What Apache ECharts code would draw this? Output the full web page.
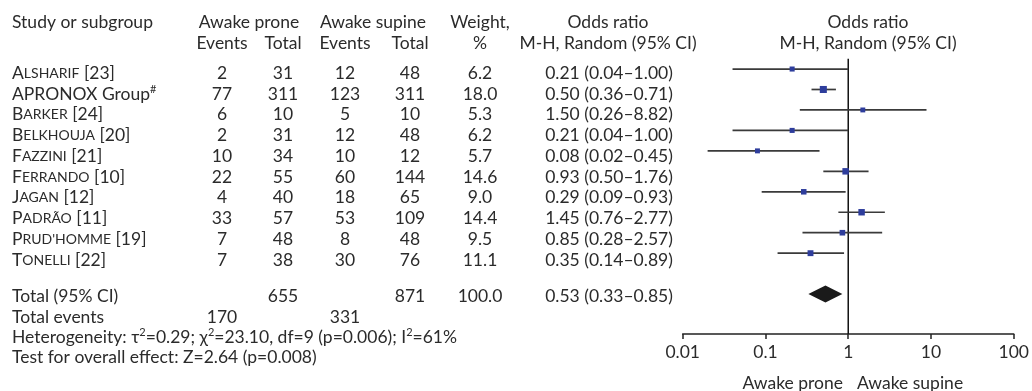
<!DOCTYPE html>
<html><head><meta charset="utf-8">
<script src="https://cdn.jsdelivr.net/npm/echarts@6/dist/echarts.min.js"></script>
<style>html,body{margin:0;padding:0;background:#fff}#c{width:1032px;height:391px}</style>
</head><body><div id="c"></div>
<script>
// ---- data ----
const studyNames = ['Alsharif', 'APRONOX Group', 'Barker', 'Belkhouja', 'Fazzini', 'Ferrando', 'Jagan', 'Padrão', "Prud'homme", 'Tonelli'];
const studyRefs = ['[23]', '#', '[24]', '[20]', '[21]', '[10]', '[12]', '[11]', '[19]', '[22]'];
const smallCaps = [true, false, true, true, true, true, true, true, true, true];
const proneEvents = [2, 77, 6, 2, 10, 22, 4, 33, 7, 7];
const proneTotal = [31, 311, 10, 31, 34, 55, 40, 57, 48, 38];
const supineEvents = [12, 123, 5, 12, 10, 60, 18, 53, 8, 30];
const supineTotal = [48, 311, 10, 48, 12, 144, 65, 109, 48, 76];
const weights = [6.2, 18.0, 5.3, 6.2, 5.7, 14.6, 9.0, 14.4, 9.5, 11.1];
const oddsRatio = [0.21, 0.50, 1.50, 0.21, 0.08, 0.93, 0.29, 1.45, 0.85, 0.35];
const ciLow = [0.04, 0.36, 0.26, 0.04, 0.02, 0.50, 0.09, 0.76, 0.28, 0.14];
const ciHigh = [1.00, 0.71, 8.82, 1.00, 0.45, 1.76, 0.93, 2.77, 2.57, 0.89];
const totalProne = 655, totalSupine = 871, totalWeight = '100.0';
const totalEventsProne = 170, totalEventsSupine = 331;
const pooled = [0.53, 0.33, 0.85];
const tickValues = [0.01, 0.1, 1, 10, 100];
const tickLabels = ['0.01', '0.1', '1', '10', '100'];

// ---- style ----
const FONT = 'Lato';
const FS = 17.5;
const TXT = '#2b2b2b';
const fmt2 = v => v.toFixed(2);

const chart = echarts.init(document.getElementById('c'), null, {renderer: 'canvas'});
const gfx = [];
function T(x, y, text, align, rich) {
  gfx.push({type: 'text', x: x, y: y, silent: true,
    style: {text: text, fontFamily: FONT, fontSize: FS, fill: TXT, align: align || 'center', verticalAlign: 'middle', lineHeight: 20, rich: rich || {}}});
}
const RICH = {
  sc1: {fontFamily: FONT, fontSize: FS, fill: TXT, lineHeight: 20},
  sc2: {fontFamily: FONT, fontSize: 14, fill: TXT, lineHeight: 20},
  sup: {fontFamily: FONT, fontSize: 11, fill: TXT, verticalAlign: 'top', lineHeight: 20},
  n: {fontFamily: FONT, fontSize: FS, fill: TXT, lineHeight: 20}
};

// header
const H1 = 22, H2 = 43;
T(12, H1, 'Study or subgroup', 'left');
T(249, H1, 'Awake prone'); T(373, H1, 'Awake supine'); T(480, H1, 'Weight,');
T(608, H1, 'Odds ratio'); T(868, H1, 'Odds ratio');
T(222, H2, 'Events'); T(283, H2, 'Total'); T(345, H2, 'Events'); T(410, H2, 'Total'); T(480, H2, '%');
T(608, H2, 'M-H, Random (95% CI)'); T(868, H2, 'M-H, Random (95% CI)');

// rows
const RY0 = 73.3, RSTEP = 20.75;
studyNames.forEach((nm, i) => {
  const y = RY0 + RSTEP * i;
  let label;
  if (smallCaps[i]) {
    label = '{sc1|' + nm[0] + '}{sc2|' + nm.slice(1).toUpperCase() + '}{n| ' + studyRefs[i] + '}';
  } else {
    label = '{n|' + nm + '}{sup|' + studyRefs[i] + '}';
  }
  T(12, y, label, 'left', RICH);
  T(222, y, String(proneEvents[i]));
  T(283, y, String(proneTotal[i]));
  T(345, y, String(supineEvents[i]));
  T(410, y, String(supineTotal[i]));
  T(480, y, weights[i].toFixed(1));
  T(609, y, fmt2(oddsRatio[i]) + ' (' + fmt2(ciLow[i]) + '\u2013' + fmt2(ciHigh[i]) + ')');
});
T(12, 296, 'Total (95% CI)', 'left');
T(283, 296, String(totalProne)); T(410, 296, String(totalSupine)); T(480, 296, totalWeight);
T(609, 296, fmt2(pooled[0]) + ' (' + fmt2(pooled[1]) + '\u2013' + fmt2(pooled[2]) + ')');
T(12, 317.5, 'Total events', 'left');
T(222, 317.5, String(totalEventsProne)); T(345, 317.5, String(totalEventsSupine));
T(12, 337, '{n|Heterogeneity: \u03c4}{sup|2}{n|=0.29; \u03c7}{sup|2}{n|=23.10, df=9 (p=0.006); I}{sup|2}{n|=61%}', 'left', RICH);
T(12, 357, 'Test for overall effect: Z=2.64 (p=0.008)', 'left');
T(843, 383, 'Awake prone', 'right');
T(857, 383, 'Awake supine', 'left');

const studyData = studyNames.map((_, i) => [oddsRatio[i], ciLow[i], ciHigh[i], i, weights[i]]);
const YMIN = -0.5, YMAX = 12.95;

chart.setOption({
  animation: false,
  backgroundColor: '#fff',
  grid: {left: 682.7, right: 13.3, top: 58.8, height: 275.2},
  xAxis: {
    type: 'log', logBase: 10, min: 0.01, max: 100,
    axisLine: {onZero: false, lineStyle: {color: '#222', width: 1.5}},
    axisTick: {length: 5, lineStyle: {color: '#222', width: 1.5}},
    splitLine: {show: false},
    axisLabel: {fontFamily: FONT, fontSize: FS, color: TXT, margin: 9,
      formatter: v => tickLabels[Math.round(Math.log10(v)) + 2]}
  },
  yAxis: {type: 'value', inverse: true, min: YMIN, max: YMAX, show: false},
  series: [
    {type: 'line', data: [[1, YMIN], [1, YMAX]], symbol: 'none', silent: true,
      lineStyle: {color: '#111', width: 1.5}, z: 1},
    {type: 'custom', data: studyData, z: 3,
      renderItem: (params, api) => {
        const y = api.value(3);
        const pL = api.coord([api.value(1), y]);
        const pR = api.coord([api.value(2), y]);
        const pC = api.coord([api.value(0), y]);
        const s = 4 + 0.17 * api.value(4);
        return {type: 'group', children: [
          {type: 'line', shape: {x1: pL[0], y1: pL[1], x2: pR[0], y2: pR[1]}, style: {stroke: '#3a3a3a', lineWidth: 1.7}},
          {type: 'rect', shape: {x: pC[0] - s / 2, y: pC[1] - s / 2, width: s, height: s}, style: {fill: '#2e3d9c'}}
        ]};
      }},
    {type: 'custom', data: [[pooled[0], pooled[1], pooled[2], 11]], z: 3,
      renderItem: (params, api) => {
        const y = api.value(3);
        const pC = api.coord([api.value(0), y]);
        const pL = api.coord([api.value(1), y]);
        const pR = api.coord([api.value(2), y]);
        const h = 8.5;
        return {type: 'polygon', shape: {points: [[pL[0], pC[1]], [pC[0], pC[1] - h], [pR[0], pC[1]], [pC[0], pC[1] + h]]},
          style: {fill: '#1a1a1a'}};
      }}
  ],
  graphic: gfx
});
</script></body></html>
